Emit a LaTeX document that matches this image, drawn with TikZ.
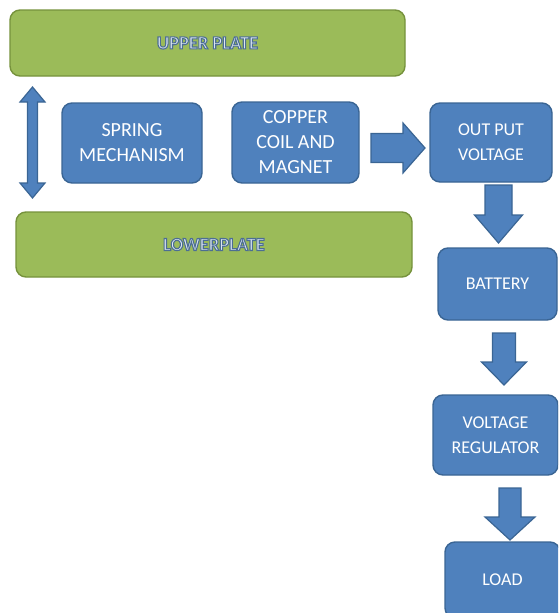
\documentclass[tikz,border=0pt]{standalone}
\usepackage{fontspec}
\setmainfont{Carlito}
\definecolor{boxblue}{HTML}{4F81BD}
\definecolor{boxblueline}{HTML}{3A6594}
\definecolor{plategreen}{HTML}{9BBB59}
\definecolor{plateline}{HTML}{76923C}
\definecolor{platetext}{HTML}{DCE6F2}
\tikzset{
  x=1pt, y=-1pt,
  bluebox/.style={draw=boxblueline, fill=boxblue, line width=1.4pt, rounded corners=10pt,
    text=white, align=center, inner sep=0pt},
  platebox/.style={draw=plateline, fill=plategreen, line width=1.4pt, rounded corners=10pt,
    align=center, inner sep=0pt, text=platetext},
  blockarrow/.style={draw=boxblueline, fill=boxblue, line width=1.2pt, line join=miter},
  bigtxt/.style={font=\fontsize{20}{25}\selectfont},
  midtxt/.style={font=\fontsize{18}{25}\selectfont},
  platetxt/.style={font=\bfseries\fontsize{18.5}{23}\selectfont}
}
\newcommand{\platelabel}[1]{\special{pdf:code 2 Tr 1.1 w 0.30 0.43 0.58 RG}#1\special{pdf:code 0 Tr}}
% down-pointing block arrow: top-centre coordinate, shaft half width, shaft length, head half width, head length
\newcommand{\downblock}[5]{%
  \draw[blockarrow] (#1) ++({-(#2)},0) -- ++({2*(#2)},0) -- ++(0,#3) -- ++({(#4)-(#2)},0)
    -- ++({-(#4)},#5) -- ++({-(#4)},{-(#5)}) -- ++({(#4)-(#2)},0) -- cycle;}
\begin{document}
\begin{tikzpicture}
\useasboundingbox (0,0) rectangle (558,613);
\clip (0,0) rectangle (558,613);
% plates
\node[platebox, platetxt, minimum width=395pt, minimum height=66pt] (upper) at (207.5,43) {\platelabel{UPPER PLATE}};
\node[platebox, platetxt, minimum width=396pt, minimum height=65pt] (lower) at (214,244.5) {\platelabel{LOWERPLATE}};
% middle boxes
\node[bluebox, bigtxt, minimum width=140pt, minimum height=80pt] (spring) at (132,143) {SPRING\\MECHANISM};
\node[bluebox, bigtxt, minimum width=127pt, minimum height=81pt] (copper) at (295.5,142.5) {COPPER\\COIL AND\\MAGNET};
% right column
\node[bluebox, midtxt, minimum width=122pt, minimum height=79pt] (output) at (491,142.5) {OUT PUT\\VOLTAGE};
\node[bluebox, midtxt, minimum width=119pt, minimum height=72pt] (battery) at (497.5,284) {BATTERY};
\node[bluebox, midtxt, minimum width=125pt, minimum height=80pt] (vreg) at (495.5,435) {VOLTAGE\\REGULATOR};
\node[bluebox, midtxt, minimum width=115pt, minimum height=76pt] (load) at (502.5,580) {LOAD};
% arrow anchor points
\coordinate (updowntop) at (32.5,87);
\coordinate (a1) at (371,148);
\coordinate (a2) at (498.5,185);
\coordinate (a3) at (504,333);
\coordinate (a4) at (510,488);
% double arrow between plates
\draw[blockarrow] (updowntop) -- ++(12.5,15) -- ++(-7.5,0) -- ++(0,81) -- ++(7.5,0)
  -- ++(-12.5,15) -- ++(-12.5,-15) -- ++(7.5,0) -- ++(0,-81) -- ++(-7.5,0) -- cycle;
% right arrow
\draw[blockarrow] (a1) ++(0,-14.5) -- ++(32,0) -- ++(0,-10.5) -- ++(22,25) -- ++(-22,25)
  -- ++(0,-10.5) -- ++(-32,0) -- cycle;
% down arrows
\downblock{a2}{13.5}{30}{24}{28}
\downblock{a3}{11.5}{29}{22.5}{23}
\downblock{a4}{11}{29}{25}{23}
\end{tikzpicture}
\end{document}
